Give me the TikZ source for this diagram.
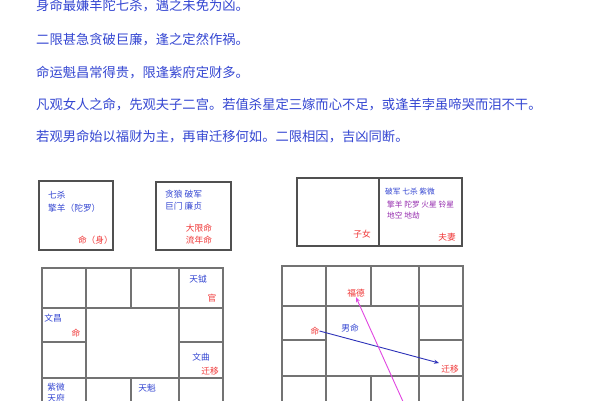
\documentclass[tikz,border=0pt]{standalone}
\usepackage{fontspec}
\setmainfont{Noto Sans CJK SC}
\usetikzlibrary{arrows.meta}
\definecolor{tblue}{RGB}{52,70,210}
\definecolor{tred}{RGB}{240,55,55}
\definecolor{tpurple}{RGB}{150,45,175}
\definecolor{tmag}{RGB}{225,70,225}
\definecolor{aline}{RGB}{45,50,185}
\definecolor{gline}{RGB}{115,115,115}
\definecolor{bline}{RGB}{80,80,80}
\tikzset{
  maintext/.style={anchor=west,inner sep=0pt,text=tblue,font=\fontsize{13.3}{15}\selectfont},
  small/.style={inner sep=0pt,font=\fontsize{8.7}{10}\selectfont},
  tiny/.style={inner sep=0pt,font=\fontsize{7.7}{9}\selectfont},
  sb/.style={small,text=tblue},
  sr/.style={small,text=tred},
  tb/.style={tiny,text=tblue},
  tp/.style={tiny,text=tpurple},
  boxline/.style={draw=bline,line width=1.3pt},
  gridline/.style={draw=gline,line width=1.2pt},
}
\begin{document}
\begin{tikzpicture}[x=1pt,y=-1pt]
\useasboundingbox (0,0) rectangle (600,400);
\clip (0,0) rectangle (600,400);
\fill[white] (0,0) rectangle (600,400);
% text lines
\node[maintext] (l1) at (36,6) {身命最嫌羊陀七杀，遇之未免为凶。};
\node[maintext] (l2) at (36,40) {二限甚急贪破巨廉，逢之定然作祸。};
\node[maintext] (l3) at (36,73) {命运魁昌常得贵，限逢紫府定财多。};
\node[maintext] (l4) at (36,105) {凡观女人之命，先观夫子二宫。若值杀星定三嫁而心不足，或逢羊孛虽啼哭而泪不干。};
\node[maintext] (l5) at (36,137) {若观男命始以福财为主，再审迁移何如。二限相因，吉凶同断。};
% box 1
\draw[boxline] (39,181) rectangle (113,250);
\node[sb,anchor=west] (b1a) at (48,195) {七杀};
\node[sb,anchor=west] (b1b) at (48,208) {擎羊（陀罗）};
\node[sr,anchor=east] (b1c) at (113,240) {命（身）};
% box 2
\draw[boxline] (156,182) rectangle (231,250);
\node[sb,anchor=west] (b2a) at (165,194) {贪狼 破军};
\node[sb,anchor=west] (b2b) at (165,206) {巨门 廉贞};
\node[sr] (b2c) at (199,228) {大限命};
\node[sr] (b2d) at (199,240) {流年命};
% box 3
\draw[boxline] (297,178) rectangle (462,246);
\draw[boxline] (379,178) -- (379,246);
\node[tb,anchor=west] (b3a) at (385,192) {破军 七杀 紫微};
\node[tp,anchor=west] (b3b) at (387,205) {擎羊 陀罗 火星 铃星};
\node[tp,anchor=west] (b3c) at (387,216) {地空 地劫};
\node[sr] (b3d) at (362,234) {子女};
\node[sr] (b3e) at (447,237) {夫妻};
% grid 1
\draw[gridline] (42,405) -- (42,268) -- (223,268) -- (223,405);
\draw[gridline] (42,308) -- (223,308);
\draw[gridline] (42,342) -- (86,342);
\draw[gridline] (179,342) -- (223,342);
\draw[gridline] (42,378) -- (223,378);
\draw[gridline] (86,268) -- (86,405);
\draw[gridline] (179,268) -- (179,405);
\draw[gridline] (131,268) -- (131,308);
\draw[gridline] (131,378) -- (131,405);
\node[sb] (g1a) at (198,279) {天钺};
\node[sr] (g1b) at (212,298) {官};
\node[sb] (g1c) at (53,318) {文昌};
\node[sr] (g1d) at (76,333) {命};
\node[sb] (g1e) at (201,357) {文曲};
\node[sr] (g1f) at (210,371) {迁移};
\node[sb] (g1g) at (56,387) {紫微};
\node[sb] (g1h) at (56,398) {天府};
\node[sb] (g1i) at (147,388) {天魁};
% grid 2
\draw[gridline] (282,405) -- (282,266) -- (463,266) -- (463,405);
\draw[gridline] (282,306) -- (463,306);
\draw[gridline] (282,340) -- (326,340);
\draw[gridline] (419,340) -- (463,340);
\draw[gridline] (282,376) -- (463,376);
\draw[gridline] (326,266) -- (326,405);
\draw[gridline] (419,266) -- (419,405);
\draw[gridline] (371,266) -- (371,306);
\draw[gridline] (371,376) -- (371,405);
\node[sr] (fude) at (356,293) {福德};
\node[sr] (ming) at (315,331) {命};
\node[sb] (nanming) at (350,328) {男命};
\node[sr] (qianyi) at (450,369) {迁移};
\coordinate (mbot) at (405,406);
\draw[aline,line width=0.9pt,-{Stealth[length=5pt,width=4pt]}] (ming.east) -- (439,363);
\draw[tmag,line width=0.9pt,-{Stealth[length=5pt,width=4pt]}] (mbot) -- (fude.south);
\end{tikzpicture}
\end{document}
